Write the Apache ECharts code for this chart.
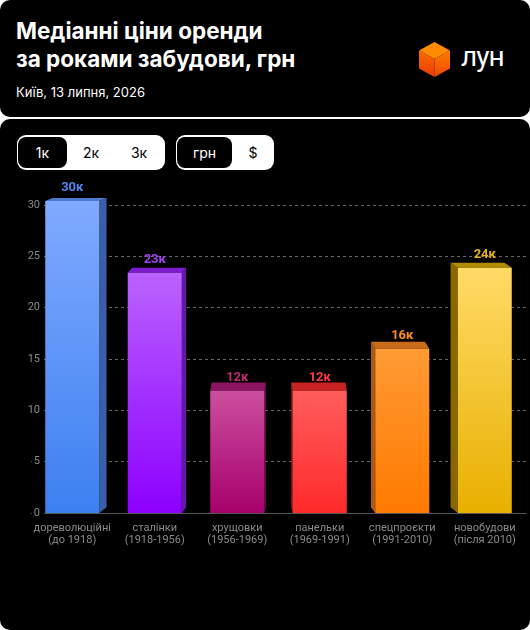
<!DOCTYPE html>
<html>
<head>
<meta charset="utf-8">
<script src="https://cdn.jsdelivr.net/npm/echarts@6/dist/echarts.min.js"></script>
<style>
html, body { margin: 0; padding: 0; background: #fff; width: 530px; height: 630px; overflow: hidden; font-family: Inter, Roboto, "Noto Sans", sans-serif; }
.card { position: absolute; left: 0; width: 530px; background: #000; border-radius: 10px; }
#head { top: 0; height: 117px; }
#body { top: 119px; height: 511px; }
.txt { position: absolute; left: 16px; color: #fff; white-space: nowrap; }
#title { top: 17px; font-size: 22.5px; font-weight: 700; line-height: 28px; }
#sub { top: 84px; font-size: 13px; line-height: 16px; }
#logo { position: absolute; left: 418px; top: 41px; }
#lun { position: absolute; left: 461px; top: 42px; color: #fff; font-family: Roboto, sans-serif; font-size: 28px; font-weight: 400; letter-spacing: -1px; line-height: 30px; }
.grp { position: absolute; top: 135px; height: 35px; background: #fff; border-radius: 9px; z-index: 2; }
.btn { position: absolute; top: 2px; height: 31px; line-height: 31px; text-align: center; font-size: 14px; color: #000; }
.sel { background: #000; color: #fff; border-radius: 8px; }
#chart { position: absolute; left: 0; top: 0; width: 530px; height: 630px; z-index: 1; }
</style>
</head>
<body>
<div class="card" id="head"></div>
<div class="card" id="body"></div>
<div class="txt" id="title">Медіанні ціни оренди<br>за роками забудови, грн</div>
<div class="txt" id="sub">Київ, 13 липня, 2026</div>
<svg id="logo" width="34" height="38" viewBox="0 0 34 38">
  <defs>
    <linearGradient id="gl" x1="0" y1="0" x2="0" y2="1"><stop offset="0" stop-color="#ff6a00"/><stop offset="1" stop-color="#e83c00"/></linearGradient>
    <linearGradient id="gr" x1="0" y1="0" x2="0" y2="1"><stop offset="0" stop-color="#ff7a00"/><stop offset="1" stop-color="#f04a00"/></linearGradient>
  </defs>
  <polygon points="16.5,1 32,9.5 16.5,18 1,9.5" fill="#ff8c00"/>
  <polygon points="1,9.5 16.5,18 16.5,36 1,27.5" fill="url(#gl)"/>
  <polygon points="16.5,18 32,9.5 32,27.5 16.5,36" fill="url(#gr)"/>
</svg>
<div id="lun">лун</div>

<div class="grp" style="left:17px;width:148px">
  <div class="btn sel" style="left:1px;width:49px">1к</div>
  <div class="btn" style="left:50px;width:48px">2к</div>
  <div class="btn" style="left:98px;width:48px">3к</div>
</div>
<div class="grp" style="left:176px;width:98px">
  <div class="btn sel" style="left:1px;width:55px">грн</div>
  <div class="btn" style="left:57px;width:40px">$</div>
</div>

<div id="chart"></div>

<script>
// медіанна оренда, тис. грн
var categories = ['дореволюційні\n(до 1918)', 'сталінки\n(1918-1956)', 'хрущовки\n(1956-1969)', 'панельки\n(1969-1991)', 'спецпроєкти\n(1991-2010)', 'новобудови\n(після 2010)'];
var values = [30.4, 23.4, 11.9, 11.9, 16.0, 23.9];
var yTicks = [0, 5, 10, 15, 20, 25, 30];

// кольори: [верх фасаду, низ фасаду, бік, верхня грань, підпис]
var palette = [
  ['#80aaff', '#3c80f0', '#3a5ea8', '#4f78d0', '#4f86f0'],
  ['#bb62ff', '#8c00ff', '#6418a8', '#7a1ccc', '#a040f0'],
  ['#cc4fa0', '#a6006a', '#7a0f52', '#8c1462', '#c02a78'],
  ['#ff5c5c', '#ff2a2a', '#b81c1c', '#c82222', '#ff3b3b'],
  ['#ff9a34', '#ff7a00', '#a85a14', '#c86a1a', '#ff8a20'],
  ['#ffda66', '#e9b000', '#8a6800', '#b08a00', '#e3b11e']
];

var VX = 280, VY = 95, KX = 0.035, KY = 0.028;

function renderBar(params, api) {
  var i = api.value(0), v = api.value(1);
  var top = api.coord([i, v]);
  var base = api.coord([i, 0]);
  var w = api.size([1, 0])[0] * 0.655;
  var cx = top[0], xl = cx - w / 2, xr = cx + w / 2, yt = top[1], yb = base[1];
  var dx = (VX - cx) * KX;
  var dyt = -(yt - VY) * KY;
  var dyb = -(yb - VY) * KY * 0.5;
  var c = palette[i];
  var children = [];
  var xe = dx > 0 ? xr : xl;
  if (Math.abs(dx) > 0.5) {
    children.push({
      type: 'polygon',
      shape: { points: [[xe, yt], [xe + dx, yt + dyt], [xe + dx, yb + dyb], [xe, yb]] },
      style: { fill: c[2] }
    });
  }
  children.push({
    type: 'polygon',
    shape: { points: [[xl, yt], [xr, yt], [xr + dx, yt + dyt], [xl + dx, yt + dyt]] },
    style: { fill: c[3] }
  });
  children.push({
    type: 'rect',
    shape: { x: xl, y: yt, width: w, height: yb - yt },
    style: {
      fill: new echarts.graphic.LinearGradient(0, 0, 0, 1, [
        { offset: 0, color: c[0] }, { offset: 1, color: c[1] }
      ])
    }
  });
  children.push({
    type: 'text',
    style: {
      text: Math.round(v) + 'к',
      x: cx, y: yt - 6.5,
      align: 'center', verticalAlign: 'bottom',
      fill: c[4], font: 'bold 13px Roboto, sans-serif'
    }
  });
  return { type: 'group', children: children };
}

var chart = echarts.init(document.getElementById('chart'), null, { renderer: 'canvas' });
chart.setOption({
  backgroundColor: 'transparent',
  animation: false,
  grid: { left: 31, right: 4, top: 205, bottom: 117 },
  xAxis: {
    type: 'category',
    data: categories,
    axisLine: { lineStyle: { color: '#555' } },
    axisTick: { alignWithLabel: true, length: 4, lineStyle: { color: '#666' } },
    axisLabel: { interval: 0, color: '#8a8a8a', fontSize: 11, lineHeight: 12, margin: 9, fontFamily: 'Roboto' }
  },
  yAxis: {
    type: 'value',
    min: yTicks[0], max: yTicks[yTicks.length - 1], interval: yTicks[1] - yTicks[0],
    axisLine: { show: false },
    axisTick: { show: false },
    axisLabel: { color: '#8a8a8a', fontSize: 11, margin: -13, backgroundColor: '#000', padding: [0, 4, 0, 2], fontFamily: 'Roboto' },
    splitLine: { lineStyle: { color: '#666', type: [3, 3] } }
  },
  series: [{
    type: 'custom',
    clip: false,
    renderItem: renderBar,
    data: values.map(function (v, i) { return [i, v]; })
  }]
});
</script>
</body>
</html>
